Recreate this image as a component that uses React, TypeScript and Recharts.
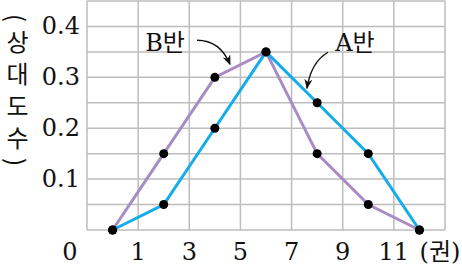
import { LineChart, Line, XAxis, YAxis, CartesianGrid, ReferenceDot } from 'recharts';

// ─── Data ─────────────────────────────────────────────────────────────────────

const classMarks = [0, 2, 4, 6, 8, 10, 12];
const classA = [0, 0.05, 0.2, 0.35, 0.25, 0.15, 0];
const classB = [0, 0.15, 0.3, 0.35, 0.15, 0.05, 0];

const xTicks = [-1, 1, 3, 5, 7, 9, 11, 13];
const xTickLabels = ['0', '1', '3', '5', '7', '9', '11', '(권)'];
const yTicks = [0, 0.05, 0.1, 0.15, 0.2, 0.25, 0.3, 0.35, 0.4, 0.45];
const yTickLabels = ['', '', '0.1', '', '0.2', '', '0.3', '', '0.4', ''];

const tableData = classMarks.map((x, i) => ({ x, a: classA[i], b: classB[i] }));

// ─── Styles ───────────────────────────────────────────────────────────────────

const FONT = '"DejaVu Serif", "Noto Sans CJK KR", serif';
const BLUE = '#12ADEA';
const PURPLE = '#A98BC6';
const GRID = '#BDBDBD';

// ─── Ticks ────────────────────────────────────────────────────────────────────

// eslint-disable-next-line @typescript-eslint/no-explicit-any
function XTick(props: any) {
  const { x, y, payload } = props;
  const idx = xTicks.indexOf(payload.value);
  const dx = payload.value === -1 ? -17 : payload.value === 13 ? -5 : 0;
  return (
    <text x={x + dx} y={y + 22} textAnchor="middle" dominantBaseline="central"
      fontFamily={FONT} fontSize={24} fill="#111">
      {xTickLabels[idx]}
    </text>
  );
}

// eslint-disable-next-line @typescript-eslint/no-explicit-any
function YTick(props: any) {
  const { x, y, payload } = props;
  const idx = yTicks.indexOf(payload.value);
  if (!yTickLabels[idx]) return null;
  return (
    <text x={x} y={y} textAnchor="end" dominantBaseline="central"
      fontFamily={FONT} fontSize={24} fill="#111">
      {yTickLabels[idx]}
    </text>
  );
}

// ─── Annotations (label + curved arrow) ───────────────────────────────────────

// eslint-disable-next-line @typescript-eslint/no-explicit-any
function makeTag(text: string, curve: number[], id: string) {
  // eslint-disable-next-line @typescript-eslint/no-explicit-any
  return function Tag(props: any) {
    const { cx, cy } = props;
    const [sx, sy, qx, qy, ex, ey] = curve;
    return (
      <g>
        <defs>
          <marker id={id} markerWidth={10} markerHeight={8} refX={9} refY={4}
            orient="auto" markerUnits="userSpaceOnUse">
            <path d="M0,0 L10,4 L0,8 L3,4 Z" fill="#111" />
          </marker>
        </defs>
        <text x={cx} y={cy} textAnchor="middle" dominantBaseline="central"
          fontFamily={FONT} fontSize={24} fill="#111">{text}</text>
        <path
          d={`M${cx + sx},${cy + sy} Q${cx + qx},${cy + qy} ${cx + ex},${cy + ey}`}
          fill="none" stroke="#111" strokeWidth={1.4} markerEnd={`url(#${id})`}
        />
      </g>
    );
  };
}

const TagB = makeTag('B반', [32, -3, 55, -3, 65, 21], 'arrB');
const TagA = makeTag('A반', [-27, 9, -44, 19, -48, 45], 'arrA');

// ─── Component ────────────────────────────────────────────────────────────────

export default function App() {
  return (
    <div style={{ position: 'absolute', left: 0, top: 0, width: 462, height: 272, background: '#fff' }}>
      <LineChart width={462} height={272} data={tableData}
        margin={{ top: 1, right: 17, bottom: 0, left: 0 }}>
        <CartesianGrid stroke={GRID} strokeWidth={1.5} />
        <XAxis type="number" dataKey="x" domain={[-1, 13]} ticks={xTicks} interval={0}
          axisLine={false} tickLine={false} tickSize={0} tickMargin={0} height={42}
          tick={<XTick />} />
        <YAxis type="number" domain={[0, 0.45]} ticks={yTicks} interval={0}
          axisLine={false} tickLine={false} tickSize={0} tickMargin={7} width={87}
          tick={<YTick />} />
        <Line dataKey="b" stroke={PURPLE} strokeWidth={3} isAnimationActive={false}
          dot={{ r: 4.5, fill: '#000', stroke: 'none' }} />
        <Line dataKey="a" stroke={BLUE} strokeWidth={3} isAnimationActive={false}
          dot={{ r: 4.5, fill: '#000', stroke: 'none' }} />
        <ReferenceDot x={2.05} y={0.367} r={0} shape={TagB} />
        <ReferenceDot x={9.48} y={0.367} r={0} shape={TagA} />
      </LineChart>
      <div style={{
        position: 'absolute', left: 5, top: 14, writingMode: 'vertical-rl',
        fontFamily: '"Noto Sans CJK KR", sans-serif', fontSize: 24, letterSpacing: 8,
        lineHeight: 1, color: '#111',
      }}>
        (상대도수)
      </div>
    </div>
  );
}
